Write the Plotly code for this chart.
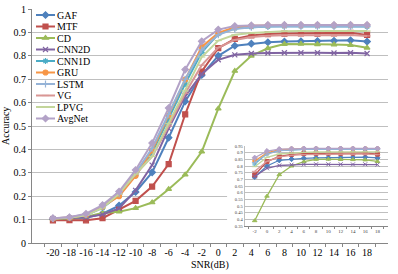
import plotly.graph_objects as go

snr = [-20, -18, -16, -14, -12, -10, -8, -6, -4, -2, 0, 2, 4, 6, 8, 10, 12, 14, 16, 18]
snr_labels = [str(v) for v in snr]

gaf    = [0.103, 0.105, 0.108, 0.125, 0.160, 0.218, 0.302, 0.450, 0.605, 0.718, 0.800, 0.843, 0.852, 0.858, 0.861, 0.862, 0.863, 0.864, 0.866, 0.861]
mtf    = [0.097, 0.098, 0.097, 0.106, 0.142, 0.180, 0.241, 0.337, 0.550, 0.733, 0.833, 0.872, 0.887, 0.893, 0.895, 0.896, 0.895, 0.896, 0.898, 0.889]
cd     = [0.102, 0.105, 0.112, 0.128, 0.134, 0.149, 0.173, 0.230, 0.292, 0.390, 0.574, 0.735, 0.800, 0.832, 0.850, 0.851, 0.849, 0.848, 0.846, 0.834]
cnn2d  = [0.104, 0.106, 0.110, 0.122, 0.148, 0.225, 0.333, 0.490, 0.627, 0.722, 0.783, 0.804, 0.810, 0.812, 0.813, 0.813, 0.813, 0.812, 0.813, 0.810]
cnn1d  = [0.105, 0.108, 0.118, 0.150, 0.205, 0.290, 0.385, 0.530, 0.680, 0.815, 0.893, 0.918, 0.923, 0.925, 0.926, 0.926, 0.926, 0.927, 0.926, 0.925]
gru    = [0.104, 0.108, 0.120, 0.155, 0.200, 0.287, 0.395, 0.545, 0.698, 0.838, 0.898, 0.922, 0.928, 0.930, 0.930, 0.930, 0.931, 0.930, 0.931, 0.930]
lstm   = [0.105, 0.110, 0.122, 0.158, 0.210, 0.300, 0.405, 0.550, 0.700, 0.825, 0.890, 0.915, 0.922, 0.925, 0.925, 0.926, 0.926, 0.925, 0.926, 0.925]
vg     = [0.105, 0.110, 0.120, 0.155, 0.210, 0.295, 0.370, 0.500, 0.640, 0.760, 0.835, 0.868, 0.880, 0.886, 0.888, 0.889, 0.889, 0.889, 0.889, 0.885]
lpvg   = [0.105, 0.108, 0.118, 0.150, 0.210, 0.295, 0.370, 0.510, 0.650, 0.795, 0.865, 0.890, 0.897, 0.902, 0.905, 0.906, 0.906, 0.906, 0.907, 0.906]
avgnet = [0.106, 0.110, 0.125, 0.162, 0.220, 0.312, 0.427, 0.577, 0.741, 0.862, 0.912, 0.927, 0.930, 0.932, 0.932, 0.932, 0.932, 0.932, 0.932, 0.932]

names = ["GAF", "MTF", "CD", "CNN2D", "CNN1D", "GRU", "LSTM", "VG", "LPVG", "AvgNet"]
values = [gaf, mtf, cd, cnn2d, cnn1d, gru, lstm, vg, lpvg, avgnet]
colors = ["#4F81BD", "#C0504D", "#9BBB59", "#8064A2", "#4BACC6",
          "#F79646", "#95B3D7", "#D99694", "#C3D69B", "#B3A2C7"]
symbols = ["diamond", "square", "triangle-up", "x-thin-open", "asterisk-open",
           "circle", "cross-thin-open", "line-ew-open", "line-ew-open", "diamond"]

inset_start = snr.index(-2)
inset_labels = snr_labels[inset_start:]

y_ticks = [0, 0.1, 0.2, 0.3, 0.4, 0.5, 0.6, 0.7, 0.8, 0.9, 1]
inset_y_ticks = [0.35, 0.4, 0.45, 0.5, 0.55, 0.6, 0.65, 0.7, 0.75, 0.8, 0.85, 0.9, 0.95]

FONT = "Liberation Serif"

fig = go.Figure()
for n, v, c, s in zip(names, values, colors, symbols):
    fig.add_trace(go.Scatter(
        x=snr_labels, y=v, name=n, mode="lines+markers",
        line=dict(color=c, width=2),
        marker=dict(symbol=s, size=5, color=c, line=dict(color=c, width=1.2)),
        xaxis="x", yaxis="y", hoverinfo="skip"))

# blank white backdrop subplot behind the inset
fig.add_trace(go.Scatter(x=[], y=[], xaxis="x2", yaxis="y2", showlegend=False, hoverinfo="skip"))

for n, v, c, s in zip(names, values, colors, symbols):
    fig.add_trace(go.Scatter(
        x=inset_labels, y=v[inset_start:], name=n, mode="lines+markers",
        line=dict(color=c, width=1.3),
        marker=dict(symbol=s, size=4, color=c, line=dict(color=c, width=1)),
        xaxis="x3", yaxis="y3", showlegend=False, hoverinfo="skip"))

axis_gray = "#868686"
grid_gray = "#BFBFBF"

fig.update_layout(
    width=398, height=274,
    margin=dict(l=32, r=10, t=9, b=31, autoexpand=False),
    paper_bgcolor="white", plot_bgcolor="white",
    font=dict(family=FONT, size=10, color="#000000"),
    showlegend=True,
    legend=dict(x=0.0, y=1.0, xanchor="left", yanchor="top",
                bgcolor="rgba(0,0,0,0)", borderwidth=0,
                font=dict(family=FONT, size=10), itemwidth=30,
                tracegroupgap=0),
    xaxis=dict(type="category", domain=[0, 1], anchor="y",
               tickson="boundaries", ticks="outside", ticklen=3, tickcolor=axis_gray,
               showline=True, linecolor=axis_gray, linewidth=1, showgrid=False,
               tickangle=0, automargin=False,
               tickfont=dict(family=FONT, size=10)),
    yaxis=dict(domain=[0, 1], anchor="x", range=[0, 1], tickvals=y_ticks,
               ticks="outside", ticklen=3, tickcolor=axis_gray,
               showline=True, linecolor=axis_gray, linewidth=1, automargin=False,
               showgrid=True, gridcolor=grid_gray, gridwidth=1, zeroline=False,
               tickfont=dict(family=FONT, size=10)),
    xaxis2=dict(domain=[0.548, 1.0], anchor="y2", visible=False, showgrid=False, zeroline=False),
    yaxis2=dict(domain=[0.03, 0.44], anchor="x2", visible=False, showgrid=False, zeroline=False),
    xaxis3=dict(type="category", domain=[0.597, 0.999], anchor="y3",
                tickson="boundaries", ticks="outside", ticklen=2, tickcolor=axis_gray,
                showline=True, linecolor=axis_gray, linewidth=0.8, showgrid=False,
                tickangle=0, automargin=False,
                tickfont=dict(family=FONT, size=5, color="#404040")),
    yaxis3=dict(domain=[0.0726, 0.4145], anchor="x3", range=[0.35, 0.95], tickvals=inset_y_ticks,
                ticks="", showline=True, linecolor=grid_gray, linewidth=0.8, automargin=False,
                showgrid=True, gridcolor=grid_gray, gridwidth=0.8, zeroline=False,
                tickfont=dict(family=FONT, size=4.5, color="#404040")),
    annotations=[
        dict(text="Accuracy", textangle=-90, xref="paper", yref="paper",
             x=-0.076, y=0.5, xanchor="center", yanchor="middle", showarrow=False,
             font=dict(family=FONT, size=10)),
        dict(text="SNR(dB)", xref="paper", yref="paper",
             x=0.5, y=-0.094, xanchor="center", yanchor="middle", showarrow=False,
             font=dict(family=FONT, size=10)),
    ],
)

post = """
document.documentElement.style.margin = '0';
document.body.style.margin = '0';
document.body.style.padding = '0';
var gd = document.getElementById('{plot_id}');
var items = gd.querySelectorAll('.legend .traces');
if (items.length) {
  var gr = gd.getBoundingClientRect();
  var m = /translate\\(\\s*([-\\d.]+)[ ,]+([-\\d.]+)\\s*\\)/.exec(items[0].getAttribute('transform'));
  var x0 = parseFloat(m[1]), y0 = parseFloat(m[2]);
  for (var i = 0; i < items.length; i++) {
    var g = items[i];
    g.querySelectorAll('.legendlines path').forEach(function(p){ p.setAttribute('d', 'M5,0h19'); });
    g.querySelectorAll('.legendpoints path').forEach(function(p){ p.setAttribute('transform', 'translate(14.5,0)'); });
    var t = g.querySelector('text.legendtext');
    if (t) { t.setAttribute('x', 26); }
    g.setAttribute('transform', 'translate(' + x0 + ',' + (y0 + i * 11.5) + ')');
  }
  var ln = items[0].querySelector('.legendlines path');
  var r = ln.getBoundingClientRect();
  var dy = 15 - ((r.top + r.bottom) / 2 - gr.top);
  var dx = 36 - (r.left - gr.left);
  for (var j = 0; j < items.length; j++) {
    items[j].setAttribute('transform', 'translate(' + (x0 + dx) + ',' + (y0 + dy + j * 11.5) + ')');
  }
}
"""

fig.write_html("out.html", config={"displayModeBar": False}, post_script=post)
